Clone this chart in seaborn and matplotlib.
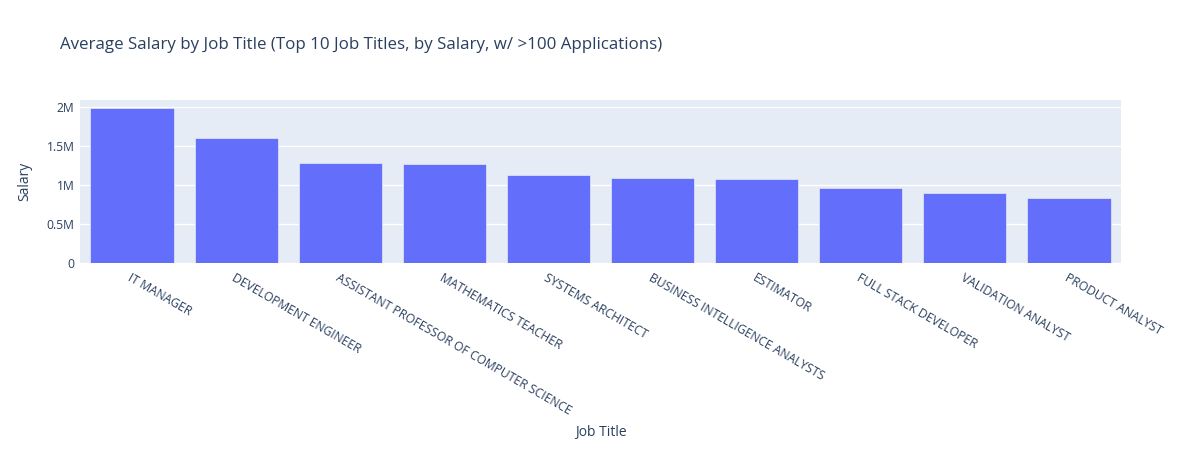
import numpy as np
import pandas as pd
import matplotlib
matplotlib.use('Agg')
import matplotlib.pyplot as plt
from matplotlib.ticker import FuncFormatter, MultipleLocator
import seaborn as sns

# ── Data ───────────────────────────────────────────────────────────────────
job_titles = [
    "IT MANAGER", "DEVELOPMENT ENGINEER", "ASSISTANT PROFESSOR OF COMPUTER SCIENCE",
    "MATHEMATICS TEACHER", "SYSTEMS ARCHITECT", "BUSINESS INTELLIGENCE ANALYSTS",
    "ESTIMATOR", "FULL STACK DEVELOPER", "VALIDATION ANALYST", "PRODUCT ANALYST",
]
salaries = [1.988e6, 1.603e6, 1.282e6, 1.278e6, 1.132e6,
            1.090e6, 1.085e6, 0.969e6, 0.905e6, 0.837e6]

df = pd.DataFrame({"Job Title": job_titles, "Salary": salaries})

# ── Style ──────────────────────────────────────────────────────────────────
BG = "#E5ECF6"
TXT = "#2a3f5f"
plt.rcParams['font.family'] = ['Open Sans', 'DejaVu Sans']

W, H = 1201, 450
fig = plt.figure(figsize=(W / 100, H / 100), dpi=100)
ax = fig.add_axes([80 / W, 1 - 263 / H, (1121 - 80) / W, (263 - 100) / H])
ax.set_facecolor(BG)

sns.barplot(data=df, x="Job Title", y="Salary", color="#636efa", saturation=1,
            width=0.8, edgecolor=BG, linewidth=0.5, ax=ax, zorder=3)

ax.set_xlim(-0.5, len(job_titles) - 0.5)
ax.set_ylim(0, 2.094e6)
ax.yaxis.set_major_locator(MultipleLocator(0.5e6))

def fmt_m(v, pos):
    if v == 0:
        return "0"
    return f"{v / 1e6:g}M"

ax.yaxis.set_major_formatter(FuncFormatter(fmt_m))
ax.grid(axis='y', color='white', linewidth=1, zorder=0)
ax.grid(axis='x', visible=False)
ax.set_axisbelow(True)
for s in ax.spines.values():
    s.set_visible(False)

ax.tick_params(axis='both', length=0, colors=TXT, labelsize=8.7)
ax.tick_params(axis='y', pad=4)
ax.tick_params(axis='x', pad=6)
for lbl in ax.get_xticklabels():
    lbl.set_rotation(-30)
    lbl.set_ha('left')
    lbl.set_va('top')
    lbl.set_rotation_mode('anchor')

ax.set_xlabel("Job Title", color=TXT, fontsize=10)
ax.xaxis.set_label_coords(0.5, -(425 - 263) / (263 - 100), transform=ax.transAxes)
ax.set_ylabel("Salary", color=TXT, fontsize=10)
ax.yaxis.set_label_coords(-(80 - 32) / (1121 - 80), 0.5, transform=ax.transAxes)

fig.text(60 / W, 1 - 45 / H,
         "Average Salary by Job Title (Top 10 Job Titles, by Salary, w/ >100 Applications)",
         color=TXT, fontsize=12.2, ha='left', va='center')

plt.savefig("out.png", dpi=100, facecolor='white')
plt.close()
